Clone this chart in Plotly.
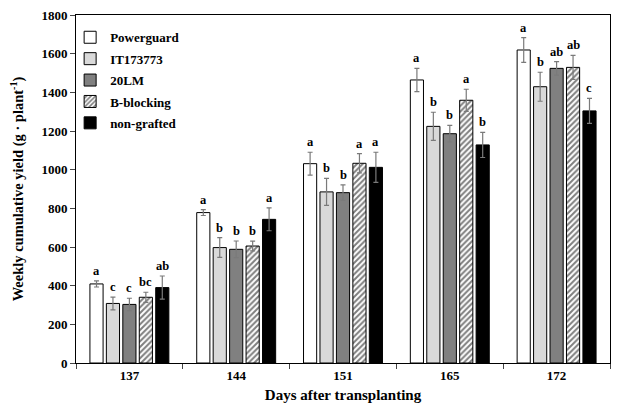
import plotly.graph_objects as go

days = ["137", "144", "151", "165", "172"]
series = ["Powerguard", "IT173773", "20LM", "B-blocking", "non-grafted"]

powerguard = [409, 778, 1031, 1464, 1619]
it173773 = [308, 597, 885, 1224, 1429]
lm20 = [303, 588, 881, 1186, 1524]
bblocking = [340, 605, 1033, 1359, 1529]
nongrafted = [390, 743, 1012, 1128, 1304]

err_powerguard = [16, 15, 59, 60, 64]
err_it173773 = [33, 51, 70, 73, 75]
err_lm20 = [32, 43, 40, 43, 35]
err_bblocking = [26, 25, 50, 57, 62]
err_nongrafted = [60, 59, 78, 65, 65]

let_powerguard = ["a", "a", "a", "a", "a"]
let_it173773 = ["c", "b", "b", "b", "b"]
let_lm20 = ["c", "b", "b", "b", "ab"]
let_bblocking = ["bc", "b", "a", "a", "ab"]
let_nongrafted = ["ab", "a", "a", "b", "c"]

values = [powerguard, it173773, lm20, bblocking, nongrafted]
errors = [err_powerguard, err_it173773, err_lm20, err_bblocking, err_nongrafted]
letters = [let_powerguard, let_it173773, let_lm20, let_bblocking, let_nongrafted]

colors = ["#ffffff", "#d9d9d9", "#808080", "#ffffff", "#000000"]
patterns = ["", "", "", "/", ""]

FONT = "Times New Roman, Liberation Serif, serif"
# page body has an 8px margin, so the figure is sized to the visible area
W, H = 603, 405
ML, MR, MT, MB = 68, 1, 7, 50
BARGAP, GROUPGAP = 0.23, 0.2

fig = go.Figure()
for j, name in enumerate(series):
    fig.add_trace(go.Bar(
        name=name, x=days, y=values[j], legendgroup=name,
        marker=dict(color=colors[j], line=dict(color="black", width=1),
                    pattern=dict(shape=patterns[j], fgcolor="black", bgcolor="white",
                                 size=4, solidity=0.5)),
        error_y=dict(type="data", array=errors[j], color="#7a7a7a", thickness=1.2, width=2.5),
    ))

plot_w = W - ML - MR
slot = plot_w / len(days) * (1 - BARGAP) / len(series)
for j in range(len(series)):
    for i, d in enumerate(days):
        fig.add_annotation(
            x=i, y=values[j][i] + errors[j][i], text=letters[j][i],
            showarrow=False, yanchor="bottom", xshift=(j - 2) * slot, yshift=1,
            font=dict(family=FONT, size=12.5, color="black", weight="bold"),
        )

fig.update_layout(
    width=W, height=H, margin=dict(l=ML, r=MR, t=MT, b=MB, autoexpand=False),
    paper_bgcolor="white", plot_bgcolor="white",
    barmode="group", bargap=BARGAP, bargroupgap=GROUPGAP,
    font=dict(family=FONT, size=13, color="black", weight="bold"),
    legend=dict(x=-0.011, y=0.979, xanchor="left", yanchor="top",
                bgcolor="rgba(0,0,0,0)", tracegroupgap=1.5,
                font=dict(family=FONT, size=13, color="black", weight="bold")),
    xaxis=dict(
        type="category", range=[-0.5, len(days) - 0.5], tickangle=0, automargin=False,
        tickson="boundaries", ticks="outside", ticklen=5, ticklabeloverflow="allow",
        showline=True, linecolor="black", linewidth=1, mirror=True,
        showgrid=False, tickfont=dict(size=13, weight="bold"),
        title=dict(text="Days after transplanting", font=dict(size=15, weight="bold"), standoff=7),
    ),
    yaxis=dict(
        range=[0, 1800], dtick=200, ticks="outside", ticklen=5, automargin=False,
        ticklabeloverflow="allow",
        showline=True, linecolor="black", linewidth=1, mirror=True,
        showgrid=False, zeroline=False, tickfont=dict(size=13, weight="bold"),
        title=dict(text="Weekly cumulative yield (g · plant<sup>-1</sup>)",
                   font=dict(size=14.5, weight="bold"), standoff=18),
    ),
)

fig.write_html("out.html")
